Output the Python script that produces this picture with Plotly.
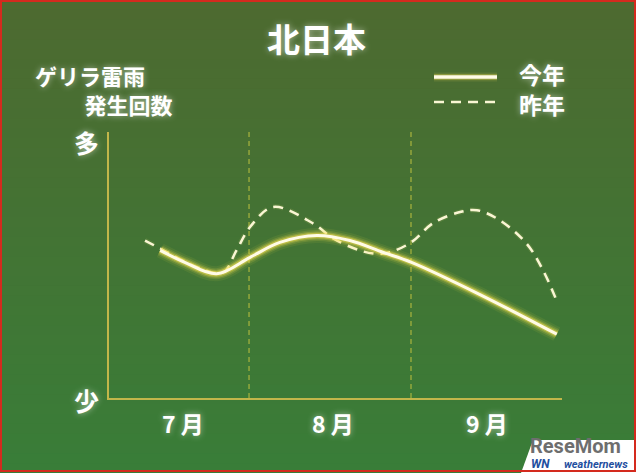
import plotly.graph_objects as go

# ---- data (days counted from July 1 = 0) ----
this_year_day = [14.0, 18.8, 24.8, 31.2, 36.9, 44.0, 50.3, 56.6, 62.1, 75.2, 89.9]
this_year_val = [55.5, 50.9, 46.7, 52.9, 58.5, 61.1, 59.2, 54.8, 51.0, 38.9, 24.0]

last_year_day = [11.1, 14.0, 21.6, 26.0, 28.6, 31.2, 35.6, 43.2, 47.1, 52.2, 55.4,
                 58.0, 62.1, 66.2, 71.4, 74.6, 79.0, 84.1, 87.3, 90.1]
last_year_val = [59.2, 56.2, 48.7, 47.2, 55.5, 64.3, 71.8, 65.7, 60.0, 55.5, 54.2,
                 54.8, 58.6, 65.7, 69.9, 70.6, 66.8, 58.1, 47.9, 35.5]

month_labels = ["7 月", "8 月", "9 月"]
month_label_day = [18.4, 47.1, 76.5]
month_boundary_day = [31, 62]

W, H = 636, 473
L, R, T, B = 109, 562, 132, 398

def px(x):
    return (x - L) / (R - L)

def py(y):
    return (B - y) / (B - T)

FONT = "Noto Sans CJK JP"
WHITE = "#ffffff"
GLOW = "0 0 6px rgba(255,255,255,0.55)"

fig = go.Figure()

# last year (dashed)
fig.add_trace(go.Scatter(x=last_year_day, y=last_year_val, mode="lines",
                         line=dict(shape="spline", smoothing=1, width=5,
                                   color="rgba(240,230,120,0.12)", dash="10px,7px"),
                         hoverinfo="skip", showlegend=False))
fig.add_trace(go.Scatter(x=last_year_day, y=last_year_val, mode="lines",
                         line=dict(shape="spline", smoothing=1, width=2.5,
                                   color="#faf6d4", dash="10px,7px"),
                         hoverinfo="skip", showlegend=False))

# this year (solid with glow)
for w, a in [(15, 0.08), (11, 0.14), (8, 0.25), (5.5, 0.45)]:
    fig.add_trace(go.Scatter(x=this_year_day, y=this_year_val, mode="lines",
                             line=dict(shape="spline", smoothing=1, width=w,
                                       color=f"rgba(245,225,80,{a})"),
                             hoverinfo="skip", showlegend=False))
fig.add_trace(go.Scatter(x=this_year_day, y=this_year_val, mode="lines",
                         line=dict(shape="spline", smoothing=1, width=3, color="#fffbe6"),
                         hoverinfo="skip", showlegend=False))

shapes = []
# gradient background
n = 48
top = (77, 106, 48)
bot = (57, 125, 56)
for i in range(n):
    t = i / (n - 1)
    c = tuple(round(top[k] + (bot[k] - top[k]) * t) for k in range(3))
    shapes.append(dict(type="rect", xref="paper", yref="paper",
                       x0=px(-5), x1=px(W + 5),
                       y0=py(H * (i + 1) / n + 1), y1=py(H * i / n),
                       fillcolor=f"rgb{c}", line=dict(width=0), layer="below"))

# month boundary dashed lines
for d in month_boundary_day:
    shapes.append(dict(type="line", xref="x", yref="y", x0=d, x1=d, y0=0, y1=100,
                       line=dict(color="#a9b43e", width=1.2, dash="5px,4px"), layer="below"))

# legend lines
for w, a in [(9, 0.12), (6, 0.3)]:
    shapes.append(dict(type="line", xref="paper", yref="paper", x0=px(434), x1=px(497),
                       y0=py(77), y1=py(77), line=dict(color=f"rgba(245,225,80,{a})", width=w)))
shapes.append(dict(type="line", xref="paper", yref="paper", x0=px(434), x1=px(497),
                   y0=py(77), y1=py(77), line=dict(color="#fffbe6", width=3.5)))
shapes.append(dict(type="line", xref="paper", yref="paper", x0=px(434), x1=px(497),
                   y0=py(102), y1=py(102), line=dict(color="#faf6d4", width=2.5, dash="10px,7px")))

# logo white parallelogram
shapes.append(dict(type="path", xref="paper", yref="paper",
                   path=f"M {px(533)} {py(440)} L {px(640)} {py(440)} L {px(640)} {py(473)} L {px(521)} {py(473)} Z",
                   fillcolor="#ffffff", line=dict(width=0)))

# red border
shapes.append(dict(type="rect", xref="paper", yref="paper",
                   x0=px(1), x1=px(W - 1), y0=py(H - 2), y1=py(1),
                   line=dict(color="#d42a1e", width=2), fillcolor="rgba(0,0,0,0)"))

ann = []
def text(t, x, y, size, color=WHITE, xanchor="center", family=FONT, shadow=GLOW, italic=False, align="center"):
    ann.append(dict(text=t, xref="paper", yref="paper", x=px(x), y=py(y),
                    xanchor=xanchor, yanchor="middle", showarrow=False, align=align,
                    font=dict(family=family, size=size, color=color, weight="bold",
                              shadow=shadow, style="italic" if italic else "normal")))

text("北日本", 316, 38, 33)
text("ゲリラ雷雨<br>\u3000\u3000\u2005発生回数", 33, 89, 22, xanchor="left", align="left")
text("今年<br>昨年", 517, 89, 23, xanchor="left", align="left")
text("多", 86, 142, 25)
text("少", 86, 400, 25)

for lab, d in zip(month_labels, month_label_day):
    ann.append(dict(text=lab, xref="x", yref="paper", x=d, y=py(423),
                    xanchor="center", yanchor="middle", showarrow=False,
                    font=dict(family=FONT, size=23, color=WHITE, weight="bold", shadow=GLOW)))

# logo text
text("ReseMom", 575, 446, 20, color="#6e6e6e", family="Roboto", shadow="none")
text("WN", 540, 464, 12, color="#1f4fa0", family="Roboto", shadow="none", italic=True)
text("weathernews", 596, 464, 11, color="#1f4fa0", family="Roboto", shadow="none", italic=True)

fig.update_layout(
    width=W, height=H,
    margin=dict(l=L, r=W - R, t=T, b=H - B, pad=0),
    paper_bgcolor="#447238", plot_bgcolor="rgba(0,0,0,0)",
    showlegend=False,
    shapes=shapes, annotations=ann,
    xaxis=dict(range=[4.2, 90.9], showgrid=False, zeroline=False, showticklabels=False,
               showline=True, linecolor="#c2b64a", linewidth=1.5, ticks=""),
    yaxis=dict(range=[0, 100], showgrid=False, zeroline=False, showticklabels=False,
               showline=True, linecolor="#c2b64a", linewidth=1.5, ticks=""),
)

fig.write_html("out.html", config={"displayModeBar": False},
               post_script="document.body.style.margin='0';document.body.style.overflow='hidden';")
